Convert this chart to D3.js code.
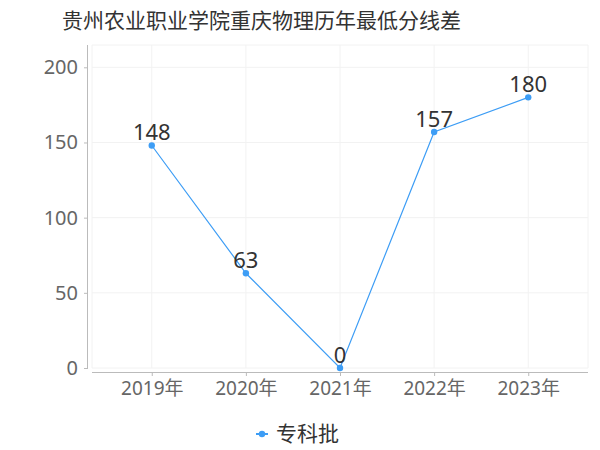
<!DOCTYPE html>
<html>
<head>
<meta charset="utf-8">
<script src="https://cdn.jsdelivr.net/npm/d3@7"></script>
<style>
  body { margin: 0; background: #fff; }
  text { font-family: "Noto Sans", "Noto Sans CJK SC", sans-serif; }
</style>
</head>
<body>
<div id="chart"></div>
<script>
const title = "贵州农业职业学院重庆物理历年最低分线差";
const years = ["2019年", "2020年", "2021年", "2022年", "2023年"];
const values = [148, 63, 0, 157, 180];
const seriesName = "专科批";
const yTicks = [0, 50, 100, 150, 200];

const width = 600;
const height = 450;
const lineColor = "#3d9df5";
const fontFamily = "Noto Sans, Noto Sans CJK SC, sans-serif";

const svg = d3.select("#chart").append("svg")
  .attr("width", width)
  .attr("height", height);

const plot = { left: 92, right: 588, top: 45, bottom: 368 };

const x = d3.scalePoint()
  .domain(years)
  .range([plot.left, plot.right])
  .padding(0.635);

const y = d3.scaleLinear()
  .domain([0, 200])
  .range([368, 67.3]);

// title
svg.append("text")
  .attr("x", 62)
  .attr("y", 28)
  .attr("font-size", "21px")
  .attr("fill", "#333")
  .text(title);

// grid
const grid = svg.append("g").attr("stroke", "#f2f2f2").attr("stroke-width", 1);
grid.selectAll(".hg")
  .data(yTicks)
  .enter()
  .append("line")
  .attr("x1", plot.left).attr("x2", plot.right)
  .attr("y1", d => y(d)).attr("y2", d => y(d));
grid.selectAll(".vg")
  .data(years)
  .enter()
  .append("line")
  .attr("x1", d => x(d)).attr("x2", d => x(d))
  .attr("y1", plot.top).attr("y2", plot.bottom);
grid.append("line")
  .attr("x1", plot.right).attr("x2", plot.right)
  .attr("y1", plot.top).attr("y2", plot.bottom);
grid.append("line")
  .attr("x1", plot.left).attr("x2", plot.left)
  .attr("y1", plot.top).attr("y2", plot.bottom);
grid.append("line")
  .attr("x1", plot.left).attr("x2", plot.right)
  .attr("y1", plot.top).attr("y2", plot.top);

// y axis
const yAxis = svg.append("g")
  .attr("transform", "translate(88,0)")
  .call(d3.axisLeft(y).tickValues(yTicks).tickSize(4).tickPadding(6));
yAxis.select(".domain").attr("stroke", "#bbb").attr("d", `M-0.5,${plot.top}V${plot.bottom}`);
yAxis.selectAll(".tick line").attr("stroke", "#bbb");
yAxis.selectAll(".tick text")
  .attr("font-size", "20px")
  .attr("fill", "#666")
  .attr("font-family", fontFamily);

// x axis
const xAxis = svg.append("g")
  .attr("transform", "translate(0,372)")
  .call(d3.axisBottom(x).tickSize(4).tickPadding(6));
xAxis.select(".domain").attr("stroke", "#bbb").attr("d", `M${plot.left},0.5H${plot.right}`);
xAxis.selectAll(".tick line").attr("stroke", "#bbb");
xAxis.selectAll(".tick text")
  .attr("font-size", "19px")
  .attr("fill", "#666")
  .attr("font-family", fontFamily);

// line
const line = d3.line()
  .x((d, i) => x(years[i]))
  .y(d => y(d));

svg.append("path")
  .datum(values)
  .attr("fill", "none")
  .attr("stroke", lineColor)
  .attr("stroke-width", 1.2)
  .attr("d", line);

svg.selectAll(".dot")
  .data(values)
  .enter()
  .append("circle")
  .attr("cx", (d, i) => x(years[i]))
  .attr("cy", d => y(d))
  .attr("r", 3.2)
  .attr("fill", lineColor);

svg.selectAll(".label")
  .data(values)
  .enter()
  .append("text")
  .attr("x", (d, i) => x(years[i]))
  .attr("y", d => y(d) - 5)
  .attr("text-anchor", "middle")
  .attr("font-size", "22px")
  .attr("fill", "#333")
  .text(d => d);

// legend
const legend = svg.append("g").attr("transform", "translate(262,434)");
legend.append("line")
  .attr("x1", -6).attr("x2", 6)
  .attr("stroke", lineColor).attr("stroke-width", 2);
legend.append("circle").attr("r", 3.2).attr("fill", lineColor);
legend.append("text")
  .attr("x", 14)
  .attr("y", 7)
  .attr("font-size", "21px")
  .attr("fill", "#333")
  .text(seriesName);
</script>
</body>
</html>
